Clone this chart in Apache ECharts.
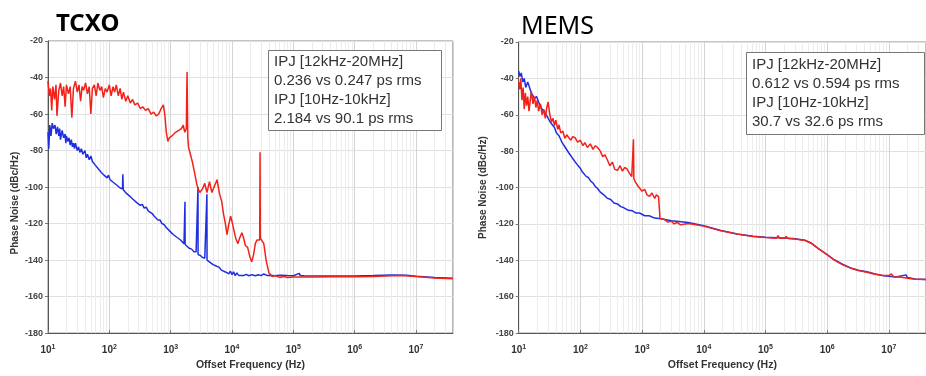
<!DOCTYPE html>
<html>
<head>
<meta charset="utf-8">
<script src="https://cdn.jsdelivr.net/npm/echarts@6/dist/echarts.min.js"></script>
<style>
html,body{margin:0;padding:0;background:#fff;}
#c{width:926px;height:376px;}
</style>
</head>
<body>
<div id="c"></div>
<script>
// ---------------- DATA ----------------
const panelTitles = ['TCXO', 'MEMS'];
const boxTexts = [
  ['IPJ [12kHz-20MHz]', '0.236 vs 0.247 ps rms', 'IPJ [10Hz-10kHz]', '2.184 vs 90.1 ps rms'],
  ['IPJ [12kHz-20MHz]', '0.612 vs 0.594 ps rms', 'IPJ [10Hz-10kHz]', '30.7 vs 32.6 ps rms']
];
const yTicks = [-180, -160, -140, -120, -100, -80, -60, -40, -20];
const xTickExponents = [1, 2, 3, 4, 5, 6, 7];
const xAxisName = 'Offset Frequency (Hz)';
const yAxisName = 'Phase Noise (dBc/Hz)';

// TCXO – red trace
const tcxoRedHz = [10,10.5,11,11.5,12,12.8,13.5,14,15,16,17,18,19,20,21.5,23,24.5,26,28,30,32,34,36,38,41,44,47,50,53,57,61,65,70,75,80,86,92,100,107,115,122,130,140,150,160,170,185,200,220,240,260,290,320,350,390,430,480,530,580,640,700,760,800,850,900,950,1050,1200,1350,1500,1600,1700,1800,1850,1900,1950,2100,2250,2450,2650,2800,3000,3300,3600,3900,4300,4700,5100,5700,6300,6800,7300,7800,8300,8800,9500,10200,10800,11500,12500,13300,14500,15500,16500,18000,19500,21000,22500,24000,25500,27000,28300,28650,29000,31000,33000,36000,40000,45000,50000,60000,70000,80000,100000,200000,500000,1e6,2e6,4e6,6e6,1e7,2e7,4e7];
const tcxoRedDb = [-42,-50,-46,-58,-45,-52,-44,-61,-47,-43,-50,-45,-56,-44,-49,-45,-62,-46,-42,-48,-44,-53,-45,-47,-43,-49,-45,-60,-46,-44,-50,-43,-47,-45,-51,-46,-48,-44,-50,-45,-48,-44,-50,-46,-52,-48,-53,-50,-54,-52,-55,-54,-57,-56,-58,-57,-60,-59,-61,-60,-57,-55,-60,-70,-75,-73,-72,-70,-69,-68,-66,-70,-68,-37,-72,-78,-82,-86,-92,-98,-101,-103,-101,-98,-103,-97,-103,-100,-96,-104,-108,-115,-120,-126,-121,-116,-120,-124,-128,-131,-128,-125,-128,-132,-133,-138,-141,-137,-131,-129,-128,-129,-81,-128,-127,-131,-140,-147,-149,-148.5,-149.5,-149,-149.5,-149.3,-149.3,-149.2,-149.2,-149,-148.6,-148.5,-149,-149.8,-150.2];

// TCXO – blue trace
const tcxoBlueHz = [10,10.3,10.7,11.2,11.7,12.3,13,13.6,14.3,15,15.5,16,17,18,19,19.5,20,21,22,23,24,25,26,27,28,30,31.5,33,35,37,40,42,44,47,50,53,56,59,62,66,70,74,78,82,87,92,97,103,110,117,125,133,141,150,158,164,166,169,178,190,200,215,230,243,260,280,300,320,345,370,400,430,460,500,540,580,620,670,720,780,840,900,960,1030,1100,1180,1260,1350,1450,1550,1650,1705,1712,1720,1850,2000,2200,2400,2600,2780,2790,2800,3050,3300,3600,3880,3900,3920,4200,4500,4900,5300,5700,6200,6700,7200,7800,8300,8900,9400,10000,10600,11300,12000,13000,14000,15500,17000,19000,21000,24000,27000,30000,33000,37000,42000,50000,60000,80000,100000,125000,130000,150000,300000,1e6,2e6,4e6,7e6,1e7,2e7,4e7];
const tcxoBlueDb = [-70,-79,-66,-72,-65,-68,-66,-71,-67,-72,-68,-74,-69,-73,-71,-76,-72,-75,-73,-77,-74,-78,-76,-79,-76,-80,-78,-81,-79,-82,-80,-84,-82,-85,-83,-86,-85,-88,-87,-90,-89,-92,-91,-93.5,-92.5,-95,-93.5,-96,-95,-97.5,-96.5,-99,-98.5,-100.5,-99.5,-101,-93,-101.5,-102,-103.5,-103,-105,-104.5,-106.7,-106.5,-108.5,-108,-110,-109.5,-111.5,-111,-113,-114,-114.5,-116,-116,-118,-118,-120,-120.5,-122,-122.5,-124,-124,-126,-125.5,-127.5,-127.5,-129,-129.5,-131,-131,-108,-131.5,-132,-133.5,-134,-135.5,-135.5,-136.5,-100,-137,-137.5,-138.5,-139,-139.5,-104,-140,-141,-141.5,-142.5,-143,-144,-144,-145.5,-145,-146.5,-145.5,-147.5,-146,-148,-146.5,-148.5,-147,-148.5,-147.5,-148.5,-147.8,-148.6,-148,-148.6,-148,-148.5,-147.6,-148.4,-148.3,-148.6,-148.3,-148.5,-148.6,-147.3,-148.5,-148.6,-148.7,-148.7,-148.5,-148.2,-148.3,-148.8,-149.5,-150];

// MEMS – red trace
const memsRedHz = [10,10.4,10.8,11.3,11.8,12.3,12.8,13.4,14,14.7,15.4,16,17,18,19,20,21,22.5,24,25.5,27,28.5,30,32,34,36,38,40,43,45,48,52,56,60,65,70,75,82,90,100,110,118,130,145,160,175,190,210,230,250,275,300,330,360,400,440,480,520,565,620,680,715,725,735,780,850,910,1000,1100,1200,1320,1450,1600,1700,1790,1850,1950,2100,2300,2600,3000,3300,3700,4200,5600,10000,19000,35000,63000,100000,150000,160000,170000,210000,215000,230000,300000,440000,550000,720000,1e6,1.3e6,1.8e6,2.4e6,3.2e6,4.4e6,6e6,7.9e6,1e7,1.1e7,1.2e7,1.6e7,2e7,2.66e7,4e7];
const memsRedDb = [-42,-46,-40,-52,-45,-57,-48,-55,-50,-58,-52,-47,-54,-50,-56,-52,-58,-54,-60,-57,-62,-56,-53,-60,-64,-62,-66,-63,-68,-65.5,-70,-69,-73,-71,-72.6,-74,-72,-72.6,-75,-74,-77,-75.3,-78,-76,-79,-77,-78,-80,-83,-82,-85,-88,-86,-90,-90.5,-88,-91,-89,-89.6,-92,-94,-93,-73.5,-95,-97,-99,-99.5,-102,-101,-104,-104.8,-103,-106,-104,-103,-105,-117,-118,-117.5,-119,-118.5,-120,-119.2,-120.5,-119.8,-121.2,-123.8,-125.6,-126.9,-127.5,-127.8,-126.5,-127.8,-127.9,-126.8,-128,-128.3,-129.1,-130.6,-133.6,-137,-139.8,-142.5,-144.3,-145.6,-146.5,-147.6,-148.4,-148.4,-147.5,-149,-149.3,-149.8,-150.4,-150.6];

// MEMS – blue trace
const memsBlueHz = [10,10.5,11,11.7,12.3,13,14,15,16,17,18,19.5,21,22.5,24,26,28,30,32.5,35,38,41,45,50,57,65,75,87,100,108,115,125,135,147,160,175,190,210,240,270,310,350,400,450,500,600,700,800,910,1100,1300,1600,1900,3000,5600,10000,19000,35000,63000,100000,150000,210000,300000,440000,550000,720000,1e6,1.3e6,1.8e6,2.4e6,3.2e6,4.4e6,6e6,7.9e6,1e7,1.3e7,1.9e7,2e7,2.66e7,4e7];
const memsBlueDb = [-36,-39,-37,-42,-40,-45,-42,-45,-48,-47,-51,-50,-53,-52,-57,-58,-60,-61,-64,-65.5,-67,-70,-71.5,-75,-78,-81,-84,-87,-89.5,-91.5,-92,-94,-94.5,-96.5,-97.5,-99.5,-100.5,-102.5,-104,-105.8,-106.6,-108.5,-109,-110.5,-111,-112.5,-112.8,-114,-114,-115.5,-115.5,-116.8,-117,-118.2,-119.2,-121,-123.6,-125.5,-126.8,-127.3,-127.6,-127.7,-128.2,-129,-130.5,-133.5,-136.8,-139.7,-142.3,-144.2,-145.5,-146.3,-147.5,-148.3,-148.8,-149.2,-148,-149.5,-150.3,-150.5];

// ---------------- CHART ----------------
const RED = '#f2221a';
const BLUE = '#1f2fe0';
const zip = (a, b) => a.map((v, i) => [v, b[i]]);

// minor log grid positions (2..9 x 10^n)
const minorX = [];
for (let e = 1; e <= 7; e++) for (let k = 2; k <= 9; k++) { const v = k * Math.pow(10, e); if (v < 4e7) minorX.push(v); }

const grids = [
  { left: 48, top: 41, width: 404.9, height: 299 },
  { left: 518.7, top: 42, width: 418.8, height: 298 }
];

const chart = echarts.init(document.getElementById('c'), null, { renderer: 'canvas' });

function xAxisFor(i) {
  return {
    type: 'log', logBase: 10, gridIndex: i, min: 10, max: 4e7, splitNumber: 7,
    name: xAxisName, nameLocation: 'middle', nameGap: 25,
    nameTextStyle: { fontSize: 10.5, fontWeight: 'bold', color: '#333', fontFamily: 'Liberation Sans' },
    axisLine: { show: true, lineStyle: { color: '#555', width: 1 } },
    axisTick: { show: true, inside: true, length: 3, lineStyle: { color: '#777' } },
    splitLine: { show: true, lineStyle: { color: '#d4d4d4', width: 1 } },
    axisLabel: {
      showMaxLabel: false, margin: 10,
      formatter: v => { const e = Math.round(Math.log10(v)); return xTickExponents.includes(e) ? '{b|10}{s|' + e + '}' : ''; },
      rich: {
        b: { fontSize: 10, color: '#333', fontWeight: 'bold', fontFamily: 'Liberation Sans' },
        s: { fontSize: 7, color: '#333', fontWeight: 'bold', fontFamily: 'Liberation Sans', padding: [0, 0, 7, 0] }
      }
    }
  };
}
function yAxisFor(i) {
  return {
    type: 'value', gridIndex: i, min: yTicks[0], max: yTicks[yTicks.length - 1], interval: 20,
    name: yAxisName, nameLocation: 'middle', nameGap: i === 0 ? 28 : 30,
    nameTextStyle: { fontSize: 10, fontWeight: 'bold', color: '#333', fontFamily: 'Liberation Sans', padding: i === 0 ? [0, 32, 0, 0] : 0 },
    axisLine: { show: true, lineStyle: { color: '#555', width: 1 } },
    axisTick: { show: true, inside: false, length: 3, lineStyle: { color: '#777' } },
    splitLine: { show: true, lineStyle: { color: '#e0e0e0', width: 1 } },
    axisLabel: { fontSize: 9, fontWeight: 'bold', color: '#444', margin: 5, fontFamily: 'Liberation Sans' }
  };
}

function lineSeries(i, data, color, z) {
  return { type: 'line', xAxisIndex: i, yAxisIndex: i, data, showSymbol: false, symbol: 'none',
    lineStyle: { color, width: 1.5 }, itemStyle: { color }, z, animation: false, sampling: null };
}
function minorGridSeries(i) {
  return { type: 'line', xAxisIndex: i, yAxisIndex: i, data: [], z: 1, silent: true, animation: false,
    markLine: { z: 1, silent: true, symbol: 'none', label: { show: false }, animation: false,
      lineStyle: { color: '#ececec', width: 1, type: 'solid' },
      data: minorX.map(v => ({ xAxis: v })) } };
}

const boxStyle = {
  fontSize: 15, lineHeight: 18.7, color: '#333', fontWeight: 'normal', fontFamily: 'Liberation Sans'
};

chart.setOption({
  backgroundColor: '#fff',
  animation: false,
  title: [
    { text: panelTitles[0], left: 56, top: 10, padding: 0, textStyle: { fontSize: 24, fontWeight: 'bold', color: '#000', fontFamily: 'Noto Sans', lineHeight: 28 } },
    { text: panelTitles[1], left: 521, top: 13, padding: 0, textStyle: { fontSize: 25, fontWeight: 'normal', color: '#000', fontFamily: 'Noto Sans', lineHeight: 28 } },
    { text: boxTexts[0].join('\n'), left: 268, top: 50, padding: [3, 20, 3, 6], borderColor: '#777', borderWidth: 1, backgroundColor: '#fff', textStyle: boxStyle },
    { text: boxTexts[1].join('\n'), left: 746, top: 52, padding: [4, 25, 4, 6], borderColor: '#777', borderWidth: 1, backgroundColor: '#fff', textStyle: boxStyle }
  ],
  grid: grids.map(g => Object.assign({ show: true, borderColor: '#888', borderWidth: 1, backgroundColor: '#fff', containLabel: false }, g)),
  xAxis: [xAxisFor(0), xAxisFor(1)],
  yAxis: [yAxisFor(0), yAxisFor(1)],
  series: [
    minorGridSeries(0),
    minorGridSeries(1),
    lineSeries(0, zip(tcxoBlueHz, tcxoBlueDb), BLUE, 3),
    lineSeries(0, zip(tcxoRedHz, tcxoRedDb), RED, 4),
    lineSeries(1, zip(memsBlueHz, memsBlueDb), BLUE, 3),
    lineSeries(1, zip(memsRedHz, memsRedDb), RED, 4)
  ]
});
</script>
</body>
</html>
